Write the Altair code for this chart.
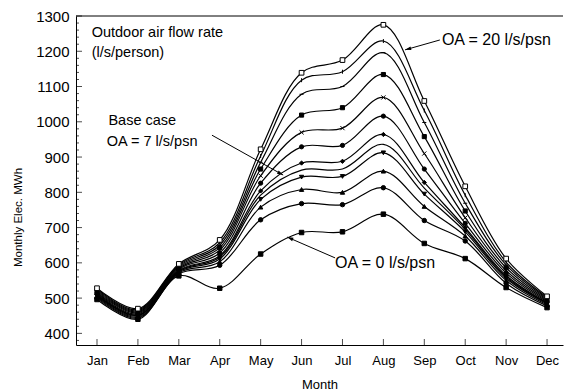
import math
import json
import altair as alt
import pandas as pd

FONT = "Liberation Sans"

# ---------------- data ----------------
MONTHS = ["Jan", "Feb", "Mar", "Apr", "May", "Jun", "Jul", "Aug", "Sep", "Oct", "Nov", "Dec"]
MONTH_NUM = list(range(1, 13))

OA_20 = [528, 470, 597, 665, 922, 1139, 1175, 1275, 1059, 817, 612, 505]
OA_18 = [525, 467, 594, 657, 903, 1118, 1142, 1229, 1032, 792, 602, 502]
OA_16 = [522, 464, 591, 650, 885, 1078, 1100, 1196, 998, 769, 594, 499]
OA_14 = [519, 461, 588, 643, 866, 1019, 1040, 1134, 958, 747, 586, 496]
OA_12 = [516, 458, 585, 636, 847, 970, 982, 1069, 910, 728, 578, 493]
OA_10 = [513, 455, 582, 628, 826, 929, 933, 1016, 866, 712, 571, 490]
OA_8 = [510, 452, 579, 620, 804, 883, 888, 964, 828, 700, 564, 487]
BASE_7 = [508, 451, 577, 616, 792, 863, 866, 936, 812, 695, 560, 486]
OA_6 = [506, 449, 575, 611, 780, 843, 845, 912, 795, 688, 556, 484]
OA_4 = [503, 446, 572, 603, 758, 808, 800, 860, 760, 676, 550, 481]
OA_2 = [500, 443, 569, 593, 722, 768, 765, 813, 720, 662, 542, 478]
OA_0 = [496, 440, 563, 528, 625, 686, 688, 738, 655, 612, 530, 473]

SERIES_NAMES = ["OA20", "OA18", "OA16", "OA14", "OA12", "OA10", "OA8", "BASE7", "OA6", "OA4", "OA2", "OA0"]
SERIES_VALUES = [OA_20, OA_18, OA_16, OA_14, OA_12, OA_10, OA_8, BASE_7, OA_6, OA_4, OA_2, OA_0]

Y_TICKS = [400, 500, 600, 700, 800, 900, 1000, 1100, 1200, 1300]
Y_MINOR = list(range(380, 1301, 20))

# annotations (text, month position, value position)
ANN_LEFT_TEXT = ["Outdoor air flow rate", "(l/s/person)", "Base case", "OA = 7 l/s/psn"]
ANN_LEFT_X = [0.87, 0.87, 1.28, 1.24]
ANN_LEFT_Y = [1251, 1194, 1003, 944]
ANN_RIGHT_TEXT = ["OA = 20 l/s/psn", "OA = 0 l/s/psn"]
ANN_RIGHT_X = [9.43, 6.82]
ANN_RIGHT_Y = [1232, 600]

ARROW_X1 = [3.81, 9.38, 6.82]
ARROW_Y1 = [962, 1232, 614]
ARROW_X2 = [5.55, 8.53, 5.65]
ARROW_Y2 = [849, 1204, 673]

# ---------------- layout ----------------
W, H = 487, 329
X_DOMAIN = [0.487, 12.39]
Y_DOMAIN = [367, 1300]
KX = W / (X_DOMAIN[1] - X_DOMAIN[0])
KY = H / (Y_DOMAIN[1] - Y_DOMAIN[0])

rows = []
for name, vals in zip(SERIES_NAMES, SERIES_VALUES):
    for m, v in zip(MONTH_NUM, vals):
        rows.append({"series": name, "month": m, "value": v})
df = pd.DataFrame(rows)

x_scale = alt.Scale(domain=X_DOMAIN, nice=False, zero=False)
y_scale = alt.Scale(domain=Y_DOMAIN, nice=False, zero=False)

label_expr = json.dumps(MONTHS) + "[datum.value - 1]"
x_axis = alt.Axis(
    values=MONTH_NUM, labelExpr=label_expr, title="Month", tickSize=0, grid=False,
    domainColor="black", domainWidth=1, labelColor="black", labelFont=FONT, labelFontSize=13,
    labelPadding=9, labelOverlap=False, labelFlush=False, titleFont=FONT, titleFontSize=13,
    titleFontWeight="normal", titleColor="black", titleY=39, titleBaseline="middle",
)
y_axis = alt.Axis(
    values=Y_TICKS, format="d", title="Monthly Elec. MWh", tickSize=0, grid=False,
    domainColor="black", domainWidth=1, labelColor="black", labelFont=FONT, labelFontSize=15,
    labelPadding=7, labelOverlap=False, labelFlush=False, titleFont=FONT, titleFontSize=11.5,
    titleFontWeight="normal", titleColor="black", titleX=-58, titleY=201,
    titleBaseline="middle", titleAlign="center", titleAngle=270,
)

X = alt.X("month:Q", scale=x_scale, axis=x_axis)
Y = alt.Y("value:Q", scale=y_scale, axis=y_axis)

lines = alt.Chart(df).mark_line(interpolate="catmull-rom", color="black").encode(
    x=X, y=Y, detail="series:N",
    strokeWidth=alt.StrokeWidth(
        "series:N",
        scale=alt.Scale(domain=SERIES_NAMES, range=[1.2] * 7 + [2.6] + [1.2] * 4),
        legend=None,
    ),
)

shape_domain = ["OA18", "OA16", "OA14", "OA12", "OA10", "OA8", "OA6", "OA4", "OA2", "OA0"]
shape_range = ["M0,-1L0,1", "M-1,0L1,0", "square", "M-1,-1L1,1M-1,1L1,-1", "circle",
               "diamond", "triangle-down", "triangle-up", "circle", "square"]
size_range = [16, 20, 14, 18, 10, 26, 22, 22, 16, 16]

pts_filled = alt.Chart(df).transform_filter(
    alt.FieldOneOfPredicate(field="series", oneOf=shape_domain)
).mark_point(filled=True, color="black", stroke="black", strokeWidth=1, opacity=1).encode(
    x=X, y=Y,
    shape=alt.Shape("series:N", scale=alt.Scale(domain=shape_domain, range=shape_range), legend=None),
    size=alt.Size("series:N", scale=alt.Scale(domain=shape_domain, range=size_range), legend=None),
)

pts_open = alt.Chart(df).transform_filter(
    alt.FieldEqualPredicate(field="series", equal="OA20")
).mark_point(shape="square", filled=False, fill="white", stroke="black", strokeWidth=1,
             opacity=1, size=22).encode(x=X, y=Y)

# axis ticks drawn inward
ytick_df = pd.DataFrame({"value": Y_MINOR})
ytick_df["major"] = ytick_df["value"] % 100 == 0
yt_major = alt.Chart(ytick_df).transform_filter("datum.major").mark_tick(
    orient="horizontal", color="black", thickness=1, size=6).encode(y=Y, x=alt.value(3))
yt_minor = alt.Chart(ytick_df).transform_filter("!datum.major").mark_tick(
    orient="horizontal", color="black", thickness=1, size=3).encode(y=Y, x=alt.value(1.5))
xt = alt.Chart(pd.DataFrame({"month": MONTH_NUM})).mark_tick(
    orient="vertical", color="black", thickness=1, size=6).encode(x=X, y=alt.value(H - 3))

top_rule = alt.Chart(pd.DataFrame({"a": [0]})).mark_rule(color="black", strokeWidth=1).encode(
    y=alt.value(0), x=alt.value(0), x2=alt.value(W))

ann_left = alt.Chart(pd.DataFrame({"t": ANN_LEFT_TEXT, "month": ANN_LEFT_X, "value": ANN_LEFT_Y})).mark_text(
    align="left", baseline="middle", font=FONT, fontSize=14.5, color="black").encode(x=X, y=Y, text="t:N")
ann_right = alt.Chart(pd.DataFrame({"t": ANN_RIGHT_TEXT, "month": ANN_RIGHT_X, "value": ANN_RIGHT_Y})).mark_text(
    align="left", baseline="middle", font=FONT, fontSize=16, color="black").encode(x=X, y=Y, text="t:N")

angles = []
for x1, y1, x2, y2 in zip(ARROW_X1, ARROW_Y1, ARROW_X2, ARROW_Y2):
    dx = (x2 - x1) * KX
    dy = -(y2 - y1) * KY
    angles.append(math.degrees(math.atan2(dx, -dy)) % 360)
arrow_df = pd.DataFrame({"month": ARROW_X1, "value": ARROW_Y1, "x2": ARROW_X2, "y2": ARROW_Y2, "angle": angles})

arrow_lines = alt.Chart(arrow_df).mark_rule(color="black", strokeWidth=1).encode(
    x=X, y=Y, x2="x2:Q", y2="y2:Q")
arrow_heads = alt.Chart(arrow_df).mark_point(
    shape="M0,0L0.3,1L-0.3,1Z", filled=True, color="black", opacity=1, size=150).encode(
    x=alt.X("x2:Q", scale=x_scale, axis=x_axis), y=alt.Y("y2:Q", scale=y_scale, axis=y_axis),
    angle=alt.Angle("angle:Q", scale=None))

chart = alt.layer(
    yt_major, yt_minor, xt, top_rule, lines, pts_filled, pts_open,
    arrow_lines, arrow_heads, ann_left, ann_right,
).properties(
    width=W, height=H,
    padding={"left": 76, "top": 16, "right": 1, "bottom": 47},
    autosize=alt.AutoSizeParams(type="none"),
    background="white",
).configure_view(stroke=None)

chart.save("out.html", embed_options={"renderer": "svg", "actions": False})
